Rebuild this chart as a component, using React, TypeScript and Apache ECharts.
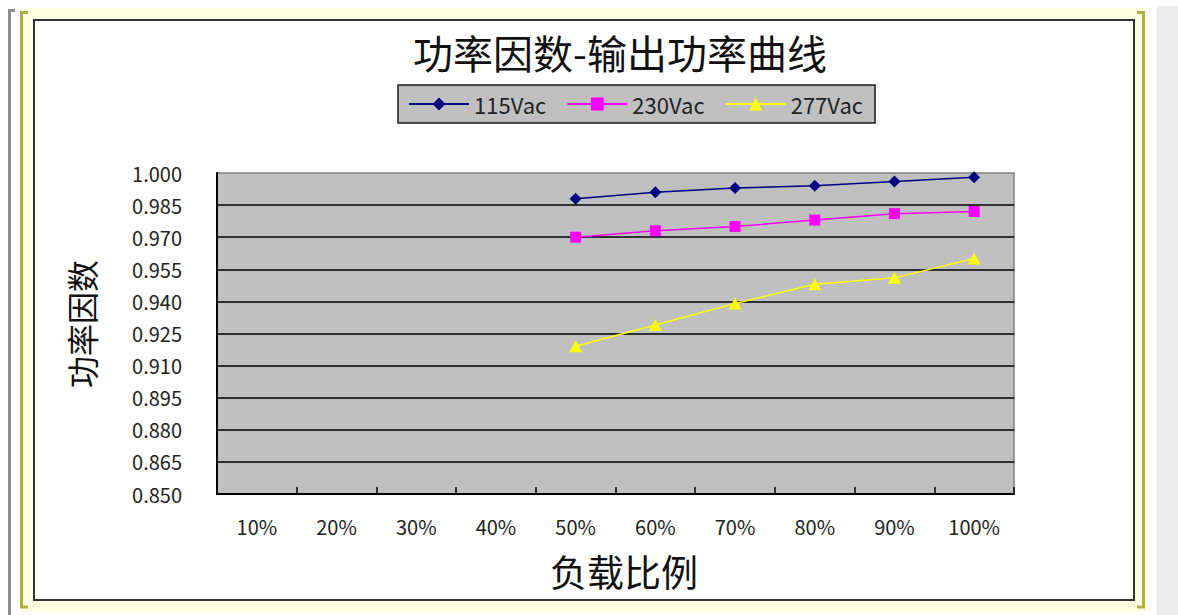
import React, { useEffect, useRef } from 'react';
import * as echarts from 'echarts';

// Load levels on the x axis
const loadLevels = ['10%', '20%', '30%', '40%', '50%', '60%', '70%', '80%', '90%', '100%'];

// Power factor per input voltage (no readings below 50% load)
const pf115Vac = [null, null, null, null, 0.988, 0.991, 0.993, 0.994, 0.996, 0.998];
const pf230Vac = [null, null, null, null, 0.97, 0.973, 0.975, 0.978, 0.981, 0.982];
const pf277Vac = [null, null, null, null, 0.919, 0.929, 0.939, 0.948, 0.951, 0.96];

// Labelled power-factor ticks
const pfTicks = [0.85, 0.865, 0.88, 0.895, 0.91, 0.925, 0.94, 0.955, 0.97, 0.985, 1.0];

const FONT = '"Noto Sans CJK SC", "Noto Sans", sans-serif';

export default function App() {
  const ref = useRef<HTMLDivElement>(null);

  useEffect(() => {
    const chart = echarts.init(ref.current!, null, { renderer: 'svg' });
    const onTick = (v: number) => pfTicks.some((t) => Math.abs(t - v) < 1e-7);

    chart.setOption({
      animation: false,
      backgroundColor: '#ffffff',
      textStyle: { fontFamily: FONT },
      graphic: [
        // outer frame: pale band, brackets and inner bordered panel
        { type: 'rect', z: -10, shape: { x: 20, y: 8, width: 1126, height: 604 }, style: { fill: '#FFFFE4' } },
        { type: 'rect', z: -10, shape: { x: 1157, y: 6, width: 21, height: 609 }, style: { fill: '#ECECEC' } },
        {
          type: 'polyline', z: -9,
          shape: { points: [[15, 10.5], [9.5, 10.5], [9.5, 615]] },
          style: { stroke: '#8C8C8C', lineWidth: 3, fill: 'none' },
        },
        {
          type: 'polyline', z: -9,
          shape: { points: [[28, 12.5], [21.5, 12.5], [21.5, 607], [28, 607]] },
          style: { stroke: '#B0B040', lineWidth: 3, fill: 'none' },
        },
        {
          type: 'polyline', z: -9,
          shape: { points: [[1137, 12.5], [1143.5, 12.5], [1143.5, 607], [1137, 607]] },
          style: { stroke: '#B0B040', lineWidth: 3, fill: 'none' },
        },
        {
          type: 'rect', z: -8,
          shape: { x: 34, y: 20, width: 1100, height: 580 },
          style: { fill: '#ffffff', stroke: '#333333', lineWidth: 2 },
        },
        // title and axis names
        {
          type: 'text', z: 10, x: 620, y: 52,
          style: { text: '功率因数-输出功率曲线', font: `40px ${FONT}`, fill: '#111', align: 'center', verticalAlign: 'middle' },
        },
        {
          type: 'text', z: 10, x: 624, y: 571,
          style: { text: '负载比例', font: `37px ${FONT}`, fill: '#111', align: 'center', verticalAlign: 'middle' },
        },
        {
          type: 'text', z: 10, x: 81, y: 324, rotation: Math.PI / 2,
          style: { text: '功率因数', font: `32px ${FONT}`, fill: '#111', align: 'center', verticalAlign: 'middle' },
        },
      ],
      legend: {
        left: 398,
        top: 85,
        padding: [8, 12, 8, 10],
        itemGap: 20,
        itemWidth: 60,
        itemHeight: 16,
        backgroundColor: '#C0C0C0',
        borderColor: '#1a1a1a',
        borderWidth: 1.5,
        textStyle: { fontSize: 22, color: '#222', fontFamily: FONT },
        data: ['115Vac', '230Vac', '277Vac'],
      },
      grid: {
        left: 217,
        top: 173,
        right: 164,
        bottom: 121,
        show: true,
        backgroundColor: '#C0C0C0',
        borderColor: '#808080',
        borderWidth: 1.5,
      },
      xAxis: {
        type: 'category',
        data: loadLevels,
        boundaryGap: true,
        axisLine: { show: true, lineStyle: { color: '#000', width: 2 } },
        axisTick: { show: true, inside: true, length: 7, alignWithLabel: false, lineStyle: { color: '#000', width: 1.5 } },
        axisLabel: { margin: 22, fontSize: 20, color: '#222', fontFamily: FONT },
        splitLine: { show: false },
      },
      yAxis: {
        type: 'value',
        min: 0.85,
        max: 1.0,
        interval: 0.005,
        axisLine: { show: true, lineStyle: { color: '#000', width: 2 } },
        axisTick: { show: false },
        axisLabel: {
          margin: 35,
          fontSize: 20,
          color: '#222',
          fontFamily: FONT,
          formatter: (v: number) => (onTick(v) ? v.toFixed(3) : ''),
        },
        splitLine: {
          show: true,
          showMaxLine: false,
          lineStyle: { color: ['#000', 'rgba(0,0,0,0)', 'rgba(0,0,0,0)'], width: 1.5 },
        },
      },
      series: [
        {
          name: '115Vac',
          type: 'line',
          data: pf115Vac,
          symbol: 'diamond',
          symbolSize: 12,
          itemStyle: { color: '#000080' },
          lineStyle: { color: '#000080', width: 1.5 },
        },
        {
          name: '230Vac',
          type: 'line',
          data: pf230Vac,
          symbol: 'rect',
          symbolSize: 11,
          itemStyle: { color: '#FF00FF' },
          lineStyle: { color: '#FF00FF', width: 1.5 },
        },
        {
          name: '277Vac',
          type: 'line',
          data: pf277Vac,
          symbol: 'triangle',
          symbolSize: [13, 12],
          itemStyle: { color: '#FFFF00' },
          lineStyle: { color: '#FFFF00', width: 1.5 },
        },
      ],
    });

    return () => chart.dispose();
  }, []);

  return <div ref={ref} style={{ position: 'absolute', left: 0, top: 0, width: 1178, height: 615 }} />;
}
